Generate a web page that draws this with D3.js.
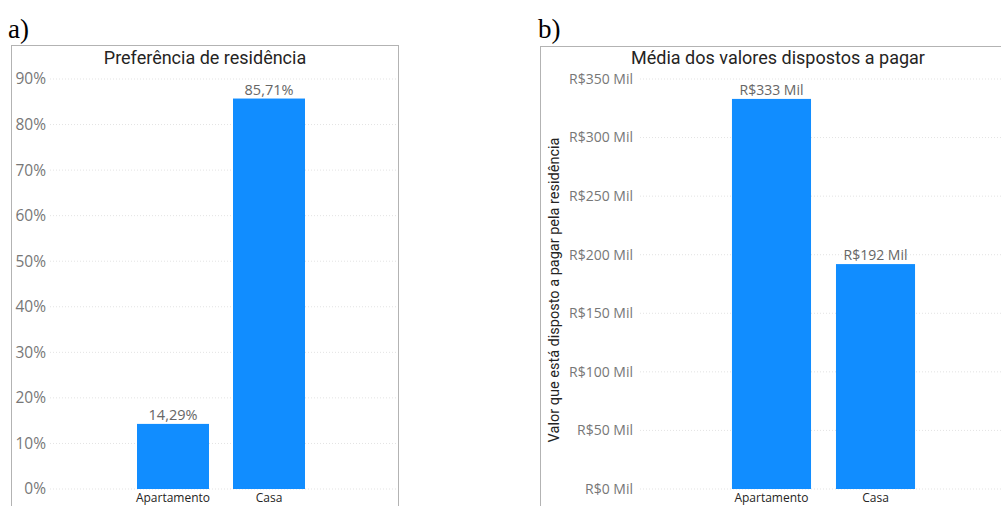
<!DOCTYPE html>
<html>
<head>
<meta charset="utf-8">
<script src="https://cdn.jsdelivr.net/npm/d3@7"></script>
<style>
  body { margin: 0; background: #fff; }
  svg { display: block; }
</style>
</head>
<body>
<svg id="chart" width="1001" height="506"></svg>
<script>
// data
const categories = ["Apartamento", "Casa"];
const preferencia = [14.29, 85.71];          // %
const valores = [333, 192];                  // R$ mil
const pctTicks = [0, 10, 20, 30, 40, 50, 60, 70, 80, 90];
const milTicks = [0, 50, 100, 150, 200, 250, 300, 350];

const BAR = "#118DFF";
const svg = d3.select("#chart");

// ---- panel a ----
svg.append("text").attr("x", 8).attr("y", 38)
  .style("font-family", "Liberation Serif").style("font-size", "27px").text("a)");

svg.append("rect").attr("x", 11.5).attr("y", 45.5).attr("width", 387).attr("height", 470)
  .attr("fill", "none").attr("stroke", "#b3b3b3");

svg.append("text").attr("x", 205).attr("y", 64).attr("text-anchor", "middle")
  .style("font-family", "Roboto").style("font-size", "18px").attr("fill", "#252423")
  .text("Preferência de residência");

const xA = d3.scaleBand().domain(categories).range([113, 329]).padding(0.25);
const yA = d3.scaleLinear().domain([0, 90]).range([489, 79]);

const gA = svg.append("g");
gA.selectAll(".grid").data(pctTicks).join("line")
  .attr("x1", 50).attr("x2", 396)
  .attr("y1", d => yA(d)).attr("y2", d => yA(d))
  .attr("stroke", "#e3e3e3").attr("stroke-dasharray", "1,2");

gA.selectAll(".tick").data(pctTicks).join("text")
  .attr("x", 46).attr("y", d => yA(d)).attr("dy", "0.35em")
  .attr("text-anchor", "end").attr("fill", "#777")
  .style("font-family", "Open Sans").style("font-size", "15.5px")
  .text(d => d + "%");

gA.selectAll(".bar").data(preferencia).join("rect")
  .attr("x", (d, i) => xA(categories[i])).attr("width", xA.bandwidth())
  .attr("y", d => yA(d)).attr("height", d => yA(0) - yA(d))
  .attr("fill", BAR);

gA.selectAll(".val").data(preferencia).join("text")
  .attr("x", (d, i) => xA(categories[i]) + xA.bandwidth() / 2)
  .attr("y", d => yA(d) - 4).attr("text-anchor", "middle").attr("fill", "#666")
  .style("font-family", "Open Sans").style("font-size", "14.5px")
  .text(d => d3.format(".2f")(d).replace(".", ",") + "%");

gA.selectAll(".cat").data(categories).join("text")
  .attr("x", d => xA(d) + xA.bandwidth() / 2).attr("y", 502)
  .attr("text-anchor", "middle").attr("fill", "#252423")
  .style("font-family", "Open Sans").style("font-size", "12px")
  .text(d => d);

// ---- panel b ----
svg.append("text").attr("x", 538).attr("y", 38)
  .style("font-family", "Liberation Serif").style("font-size", "27px").text("b)");

svg.append("rect").attr("x", 540.5).attr("y", 46.5).attr("width", 480).attr("height", 470)
  .attr("fill", "none").attr("stroke", "#b3b3b3");

svg.append("text").attr("x", 778).attr("y", 64).attr("text-anchor", "middle")
  .style("font-family", "Roboto").style("font-size", "18px").attr("fill", "#252423")
  .text("Média dos valores dispostos a pagar");

const xB = d3.scaleBand().domain(categories).range([707, 940]).padding(0.24);
const yB = d3.scaleLinear().domain([0, 350]).range([489, 79]);

const gB = svg.append("g");
gB.selectAll(".grid").data(milTicks).join("line")
  .attr("x1", 640).attr("x2", 1001)
  .attr("y1", d => yB(d)).attr("y2", d => yB(d))
  .attr("stroke", "#e3e3e3").attr("stroke-dasharray", "1,2");

gB.selectAll(".tick").data(milTicks).join("text")
  .attr("x", 633).attr("y", d => yB(d)).attr("dy", "0.35em")
  .attr("text-anchor", "end").attr("fill", "#777")
  .style("font-family", "Open Sans").style("font-size", "14px")
  .text(d => "R$" + d + " Mil");

svg.append("text")
  .attr("transform", "translate(559,290) rotate(-90)")
  .attr("text-anchor", "middle").attr("fill", "#252423")
  .style("font-family", "Roboto").style("font-size", "14.5px")
  .text("Valor que está disposto a pagar pela residência");

gB.selectAll(".bar").data(valores).join("rect")
  .attr("x", (d, i) => xB(categories[i])).attr("width", xB.bandwidth())
  .attr("y", d => yB(d)).attr("height", d => yB(0) - yB(d))
  .attr("fill", BAR);

gB.selectAll(".val").data(valores).join("text")
  .attr("x", (d, i) => xB(categories[i]) + xB.bandwidth() / 2)
  .attr("y", d => yB(d) - 4).attr("text-anchor", "middle").attr("fill", "#666")
  .style("font-family", "Open Sans").style("font-size", "14px")
  .text(d => "R$" + d + " Mil");

gB.selectAll(".cat").data(categories).join("text")
  .attr("x", d => xB(d) + xB.bandwidth() / 2).attr("y", 502)
  .attr("text-anchor", "middle").attr("fill", "#252423")
  .style("font-family", "Open Sans").style("font-size", "12px")
  .text(d => d);
</script>
</body>
</html>
